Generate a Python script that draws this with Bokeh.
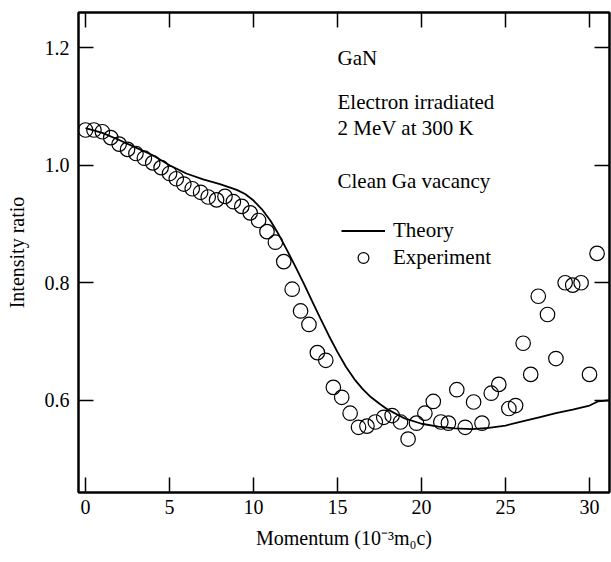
from bokeh.plotting import figure
from bokeh.models import (LinearAxis, FixedTicker, PrintfTickFormatter, Label,
                          Legend, LegendItem, Range1d, ColumnDataSource,
                          CustomJSTickFormatter)
from bokeh.embed import file_html
from bokeh.resources import INLINE

# ---------------- data ----------------
exp_momentum = [0.0, 0.5, 1.0, 1.5, 2.0, 2.5, 3.0, 3.5, 4.0, 4.5, 5.0, 5.4, 5.85,
                6.35, 6.85, 7.3, 7.8, 8.3, 8.8, 9.3, 9.8, 10.3, 10.8, 11.3, 11.8,
                12.3, 12.8, 13.3, 13.8, 14.3, 14.75, 15.25, 15.75, 16.25, 16.75,
                17.25, 17.75, 18.25, 18.75, 19.2, 19.7, 20.2, 20.7, 21.15, 21.6,
                22.1, 22.6, 23.1, 23.6, 24.15, 24.6, 25.2, 25.6, 26.05, 26.5,
                26.95, 27.5, 28.0, 28.55, 29.0, 29.5, 30.0, 30.45]
exp_ratio = [1.060, 1.060, 1.057, 1.047, 1.036, 1.027, 1.020, 1.012, 1.004, 0.996,
             0.986, 0.977, 0.968, 0.960, 0.954, 0.946, 0.941, 0.947, 0.938, 0.930,
             0.919, 0.906, 0.887, 0.869, 0.836, 0.789, 0.752, 0.729, 0.681, 0.668,
             0.622, 0.605, 0.578, 0.554, 0.556, 0.563, 0.571, 0.574, 0.563, 0.534,
             0.561, 0.578, 0.598, 0.563, 0.561, 0.618, 0.554, 0.597, 0.561, 0.612,
             0.627, 0.586, 0.591, 0.697, 0.644, 0.777, 0.746, 0.671, 0.800, 0.796,
             0.800, 0.644, 0.850]

theory_momentum = [0.0, 1.0, 2.0, 3.0, 4.0, 5.0, 6.0, 7.0, 8.0, 9.0, 9.5, 10.0, 10.5,
                   11.0, 11.5, 12.0, 12.5, 13.0, 13.5, 14.0, 14.5, 15.0, 15.5, 16.0,
                   16.5, 17.0, 17.5, 18.0, 19.0, 20.0, 21.0, 22.0, 23.0, 24.0, 25.0,
                   26.0, 27.0, 28.0, 29.0, 30.0, 30.5, 31.2]
theory_ratio = [1.063, 1.055, 1.043, 1.030, 1.017, 1.000, 0.986, 0.976, 0.968, 0.958,
                0.951, 0.940, 0.925, 0.906, 0.882, 0.855, 0.827, 0.798, 0.768, 0.738,
                0.709, 0.682, 0.657, 0.636, 0.619, 0.605, 0.594, 0.584, 0.569, 0.560,
                0.555, 0.552, 0.551, 0.553, 0.557, 0.564, 0.571, 0.578, 0.584, 0.591,
                0.598, 0.600]

x_ticks = [0, 5, 10, 15, 20, 25, 30]
y_ticks = [0.6, 0.8, 1.0, 1.2]

notes = ["GaN", "Electron irradiated", "2 MeV at 300 K", "Clean Ga vacancy"]
notes_y = [1.182, 1.107, 1.063, 0.974]
notes_x = 15.0

x_title = "Momentum (10\u207B\u00B3m\u2080c)"
y_title = "Intensity ratio"

FONT = "Liberation Serif"

# ---------------- figure ----------------
p = figure(width=611, height=560,
           x_range=Range1d(-0.42, 31.19), y_range=Range1d(0.443, 1.260),
           output_backend="svg", toolbar_location=None,
           min_border_left=78, min_border_right=2, min_border_top=12,
           min_border_bottom=68)

p.xgrid.visible = False
p.ygrid.visible = False
p.outline_line_color = "black"
p.outline_line_width = 2
p.background_fill_color = "white"
p.border_fill_color = "white"

def style_axis(ax, ticks, show_labels):
    ax.ticker = FixedTicker(ticks=ticks)
    ax.minor_tick_line_color = None
    ax.major_tick_in = 15
    ax.major_tick_out = 0
    ax.major_tick_line_color = "black"
    ax.major_tick_line_width = 1.5
    ax.axis_line_color = "black"
    ax.axis_line_width = 2
    ax.major_label_text_font = FONT
    ax.major_label_text_color = "black"
    ax.axis_label_text_font = FONT
    ax.axis_label_text_font_style = "normal"
    ax.axis_label_text_color = "black"
    if not show_labels:
        ax.formatter = CustomJSTickFormatter(code="return ''")
        ax.major_label_standoff = 0
        ax.axis_label = None

xa = p.xaxis[0]
style_axis(xa, x_ticks, True)
xa.major_label_text_font_size = "20px"
xa.major_label_standoff = 7
xa.axis_label = x_title
xa.axis_label_text_font_size = "20px"
xa.axis_label_standoff = 10

ya = p.yaxis[0]
style_axis(ya, y_ticks, True)
ya.formatter = PrintfTickFormatter(format="%.1f")
ya.major_label_text_font_size = "20px"
ya.major_label_standoff = 9
ya.axis_label = y_title
ya.axis_label_text_font_size = "20px"
ya.axis_label_standoff = 14

top = LinearAxis()
style_axis(top, x_ticks, False)
p.add_layout(top, "above")
right = LinearAxis()
style_axis(right, y_ticks, False)
p.add_layout(right, "right")

# ---------------- glyphs ----------------
src_th = ColumnDataSource(dict(x=theory_momentum, y=theory_ratio))
src_ex = ColumnDataSource(dict(x=exp_momentum, y=exp_ratio))

r_th = p.line("x", "y", source=src_th, line_color="black", line_width=1.8)
r_ex = p.scatter("x", "y", source=src_ex, marker="circle", size=14.5,
                 line_color="black", line_width=1.2, fill_color=None)

for txt, yy in zip(notes, notes_y):
    p.add_layout(Label(x=notes_x, y=yy, text=txt, text_font=FONT,
                       text_font_size="21px", text_baseline="middle",
                       text_color="black"))

legend = Legend(items=[LegendItem(label="Theory", renderers=[r_th]),
                       LegendItem(label="Experiment", renderers=[r_ex])],
                location=(263, 221), orientation="vertical",
                glyph_width=44, glyph_height=27, label_height=27,
                label_standoff=8, spacing=0, padding=0, margin=0,
                border_line_color=None, background_fill_alpha=0,
                label_text_font=FONT, label_text_font_size="21px",
                label_text_color="black")
p.add_layout(legend)

open("out.html", "w").write(file_html(p, INLINE))
